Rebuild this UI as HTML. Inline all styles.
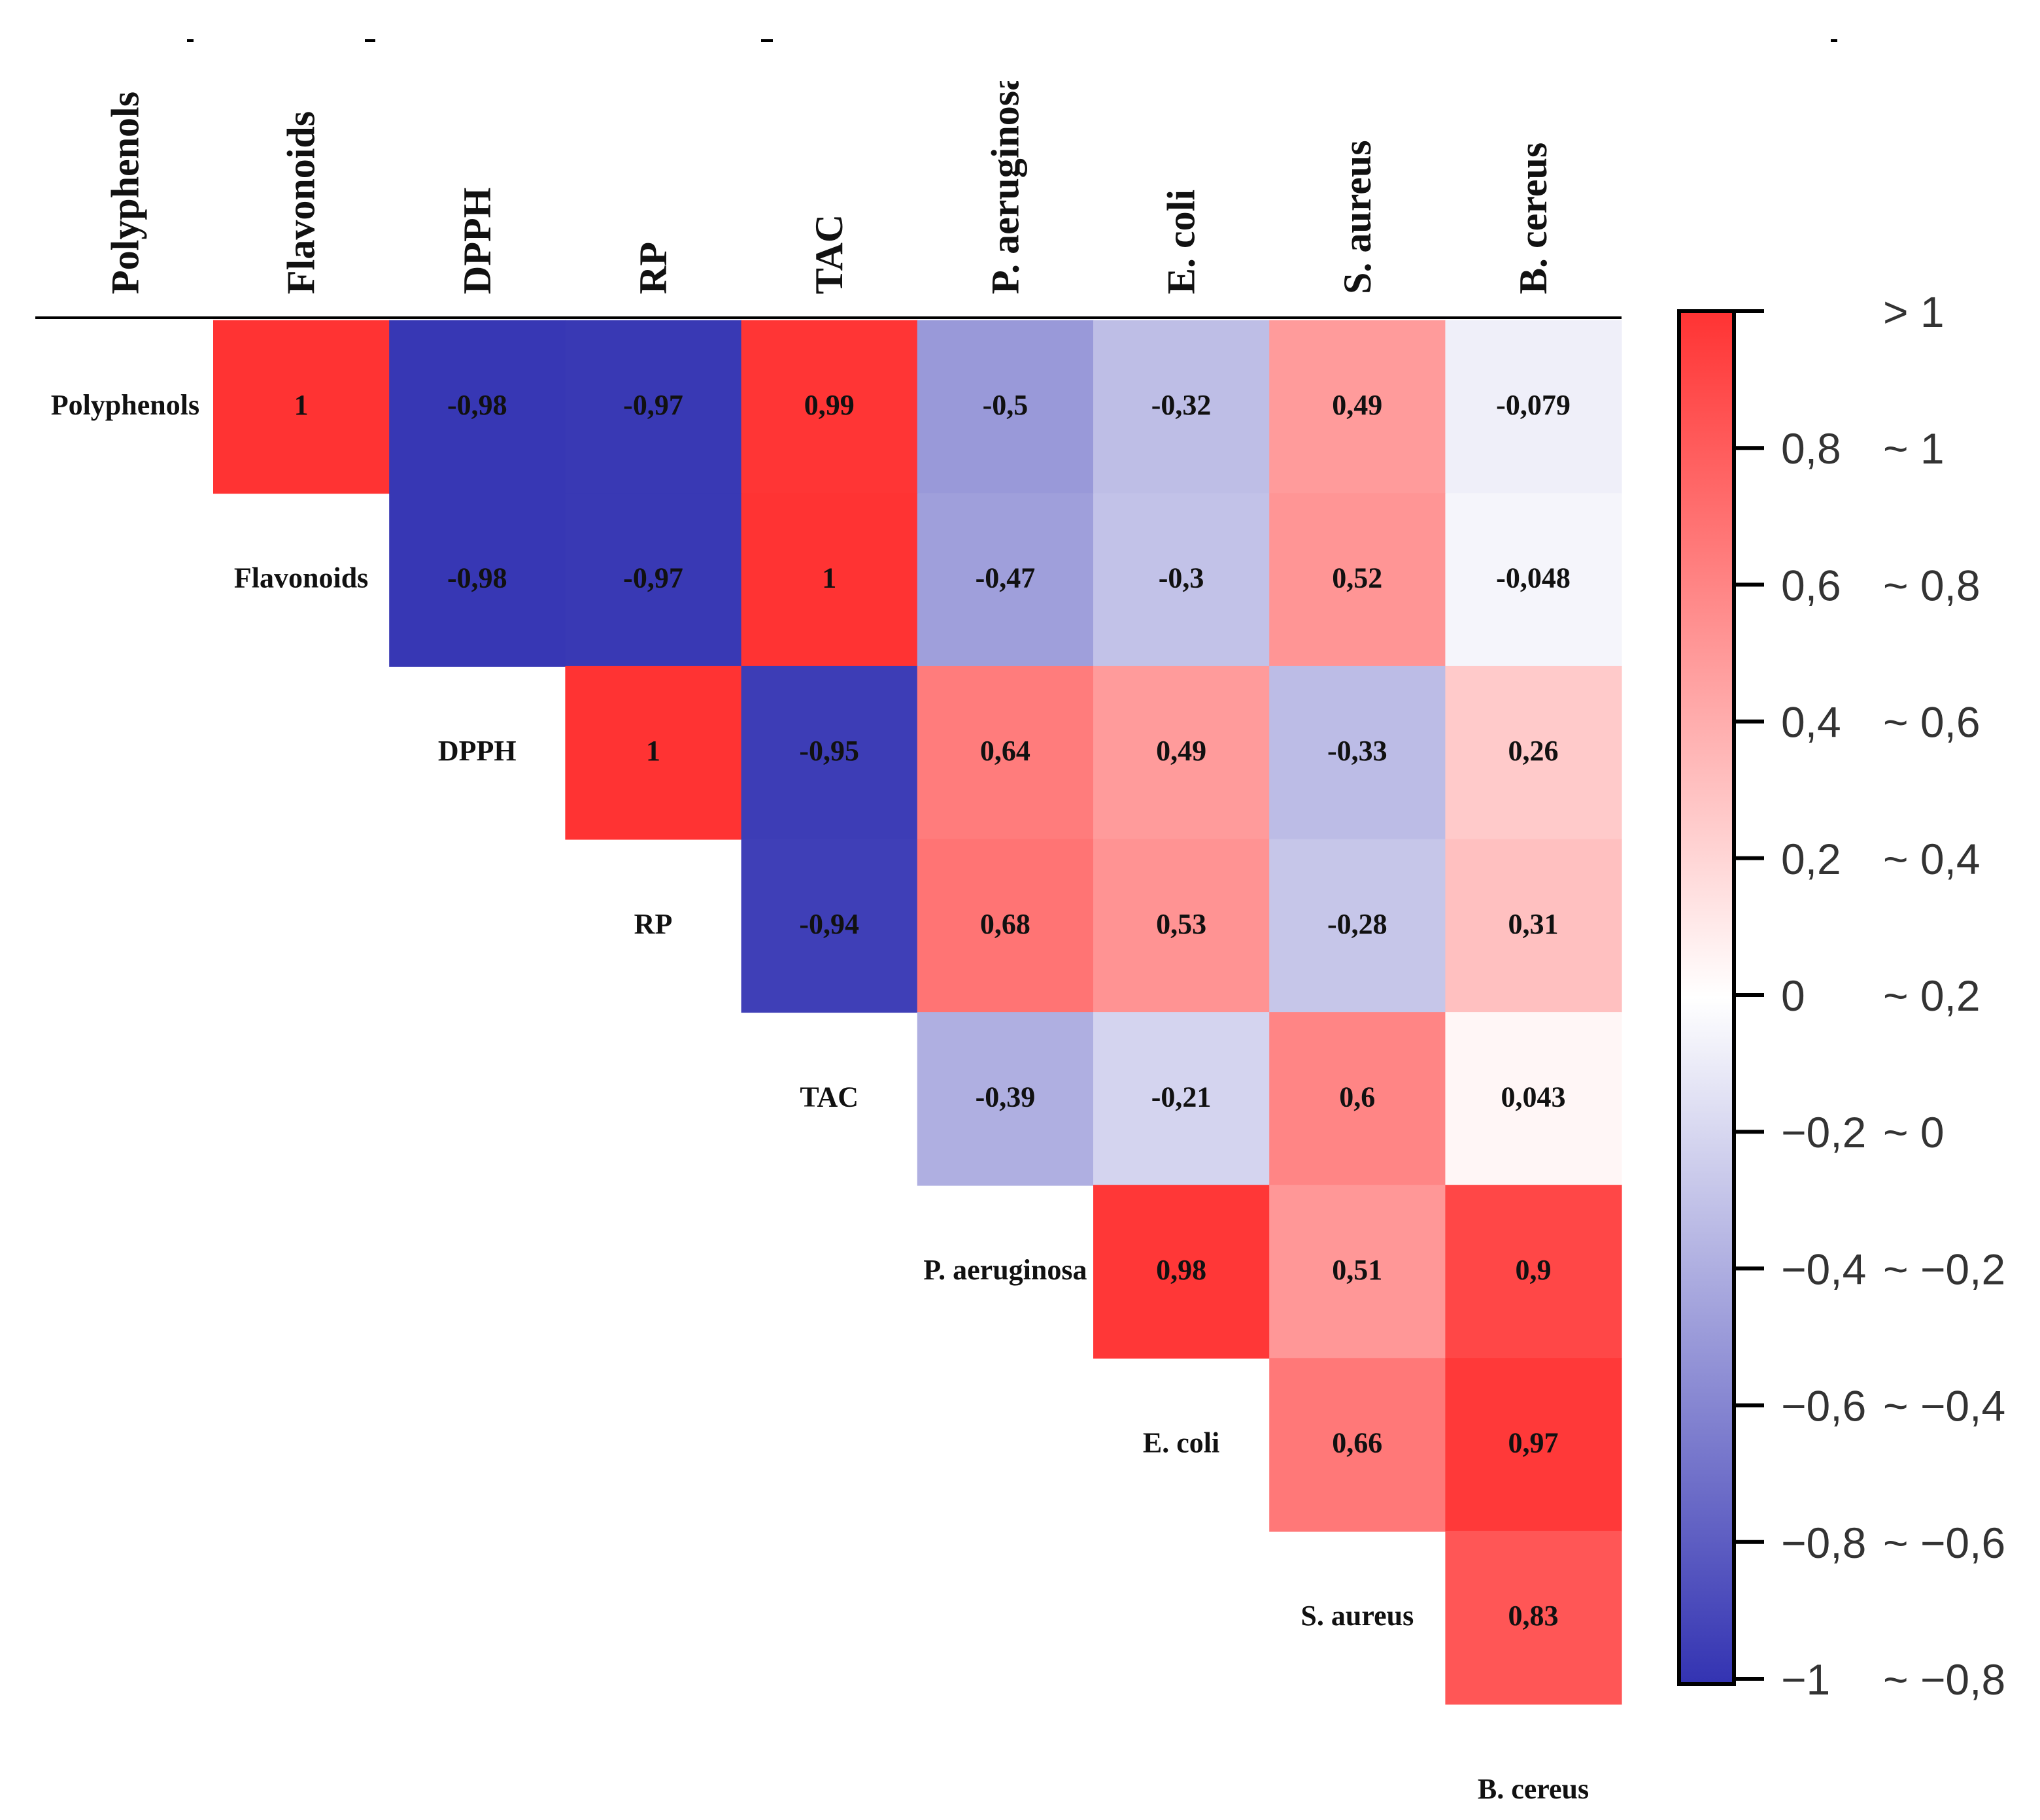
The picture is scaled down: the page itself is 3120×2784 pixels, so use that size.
<!DOCTYPE html>
<html><head><meta charset="utf-8"><style>
html,body{margin:0;padding:0;background:#fff;}
svg{display:block;}
.v{font-family:"Liberation Serif",serif;font-weight:bold;font-size:22px;fill:#111;}
.h{font-family:"Liberation Serif",serif;font-weight:bold;font-size:30px;fill:#111;}
.r{font-family:"Liberation Serif",serif;font-weight:bold;font-size:22px;fill:#111;}
.c{font-family:"Liberation Sans",sans-serif;font-size:33px;fill:#333;}
</style></head><body>
<svg id="chart" width="3120" height="2784" viewBox="0 0 1560 1392" xmlns="http://www.w3.org/2000/svg">
<defs>
<linearGradient id="cbg" x1="0" y1="0" x2="0" y2="1">
<stop offset="0" stop-color="rgb(255,51,51)"/>
<stop offset="0.5" stop-color="#ffffff"/>
<stop offset="1" stop-color="rgb(51,51,178)"/>
</linearGradient>
<clipPath id="hclip"><rect x="0" y="62" width="1300" height="200"/></clipPath>
</defs>
<g id="cells"></g>
<g id="labels"></g>
<line x1="27" y1="243" x2="1240" y2="243" stroke="#000" stroke-width="2"/>
<g stroke="#000" stroke-width="2">
<line x1="143" y1="31" x2="148" y2="31"/><line x1="279" y1="31" x2="287" y2="31"/><line x1="582" y1="31" x2="591" y2="31"/><line x1="1400" y1="31" x2="1405" y2="31"/>
</g>
<g id="colorbar">
<rect x="1284" y="238" width="42" height="1050" fill="url(#cbg)" stroke="#000" stroke-width="3"/>
</g>
<script>
const labels = ["Polyphenols","Flavonoids","DPPH","RP","TAC","P. aeruginosa","E. coli","S. aureus","B. cereus"];
const row0 = [1,-0.98,-0.97,0.99,-0.5,-0.32,0.49,-0.079];
const row1 = [-0.98,-0.97,1,-0.47,-0.3,0.52,-0.048];
const row2 = [1,-0.95,0.64,0.49,-0.33,0.26];
const row3 = [-0.94,0.68,0.53,-0.28,0.31];
const row4 = [-0.39,-0.21,0.6,0.043];
const row5 = [0.98,0.51,0.9];
const row6 = [0.66,0.97];
const row7 = [0.83];
const rows = [row0,row1,row2,row3,row4,row5,row6,row7];
const cbTicks = [0.8,0.6,0.4,0.2,0,-0.2,-0.4,-0.6,-0.8,-1];
const cbLevels = ["> 1","~ 1","~ 0,8","~ 0,6","~ 0,4","~ 0,2","~ 0","~ -0,2","~ -0,4","~ -0,6","~ -0,8"];
const NS="http://www.w3.org/2000/svg";
const CW=134.6, RH=132.3;
const cx = j => 95.7 + CW*j;
const cy = i => 311 + RH*i;
const cbY = v => 761 - v*523;
function color(v){
  if(v>=0){return `rgb(${255},${Math.round(255-204*v)},${Math.round(255-204*v)})`;}
  const a=-v; return `rgb(${Math.round(255-204*a)},${Math.round(255-204*a)},${Math.round(255-77*a)})`;
}
function fmt(v){return String(v).replace('.',',');}
function mk(tag,attrs,parent){const e=document.createElementNS(NS,tag);for(const k in attrs)e.setAttribute(k,attrs[k]);parent.appendChild(e);return e;}
const gc=document.getElementById('cells'), gl=document.getElementById('labels'), cb=document.getElementById('colorbar');
rows.forEach((r,i)=>{
  r.forEach((v,k)=>{
    const j=i+1+k;
    const rc=mk('rect',{x:cx(j)-CW/2,y:cy(i)-RH/2,width:CW+0.5,height:RH+0.5,fill:color(v)},gc);
    
    
    const t=mk('text',{x:cx(j),y:cy(i)+6,'text-anchor':'middle',class:'v'},gc);
    t.textContent=fmt(v);
    
    
  });
});
const hg=mk('g',{'clip-path':'url(#hclip)'},gl);
labels.forEach((l,i)=>{
  const t=mk('text',{x:cx(i),y:cy(i)+6,'text-anchor':'middle',class:'r'},gl);
  t.textContent=l;
  
  
  const h=mk('text',{x:0,y:0,class:'h',transform:`translate(${cx(i)+10},225) rotate(-90)`},hg);
  h.textContent=l;
  
  
});
cbTicks.forEach(v=>{
  const y=cbY(v);
  const ln=mk('line',{x1:1326,y1:y,x2:1349,y2:y,stroke:'#000','stroke-width':3},cb);
  
  
  const t=mk('text',{x:1362,y:y+12,class:'c'},cb);
  t.textContent=String(v).replace('.',',').replace('-','\u2212');
  
  
});
mk('line',{x1:1326,y1:238,x2:1349,y2:238,stroke:'#000','stroke-width':3},cb);
cbLevels.forEach((s,k)=>{
  const y = k===0 ? 238 : cbY(cbTicks[k-1]);
  const t=mk('text',{x:1440,y:y+12,class:'c'},cb);
  t.textContent=s.replace('-','\u2212');
  
  
});
</script>
</svg>
</body></html>
